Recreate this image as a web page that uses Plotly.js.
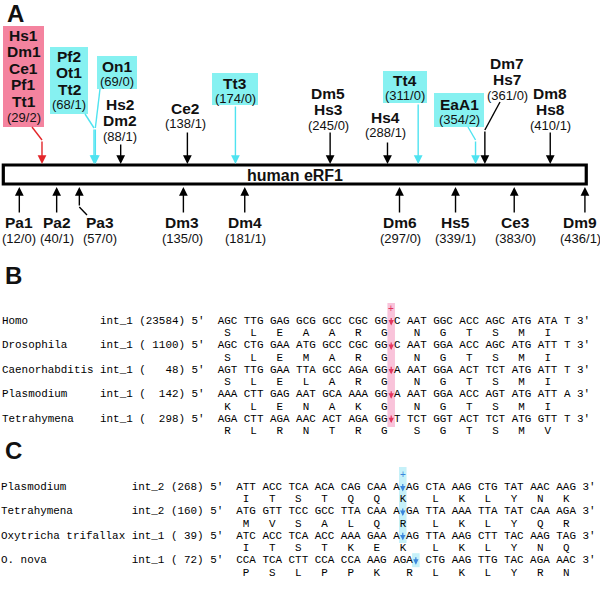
<!DOCTYPE html>
<html><head><meta charset="utf-8">
<script src="https://cdn.plot.ly/plotly-3.0.1.min.js"></script>
<style>html,body{margin:0;padding:0;background:#fff}#chart{width:600px;height:593px}</style>
</head><body><div id="chart"></div>
<script>
// ================= DATA =================
const proteinName = 'human eRF1';
const proteinLength = 437;

// intron sites above the bar
const topLabels = [['Hs1','Dm1','Ce1','Pf1','Tt1'],['Pf2','Ot1','Tt2'],['On1'],['Hs2','Dm2'],['Ce2'],['Tt3'],
                   ['Dm5','Hs3'],['Hs4'],['Tt4'],['EaA1'],['Dm7','Hs7'],['Dm8','Hs8']];
const topPositions = [29, 68, 69, 88, 138, 174, 245, 288, 311, 354, 361, 410];
const topPhases    = [2, 1, 0, 1, 1, 0, 0, 1, 0, 2, 0, 1];
const topClass     = ['shared','ciliate','ciliate','plain','plain','ciliate','plain','plain','ciliate','ciliate','plain','plain'];

// intron sites below the bar
const bottomLabels    = ['Pa1','Pa2','Pa3','Dm3','Dm4','Dm6','Hs5','Ce3','Dm9'];
const bottomPositions = [12, 40, 57, 135, 181, 297, 339, 383, 436];
const bottomPhases    = [0, 1, 0, 0, 1, 0, 1, 0, 1];

// panel B alignment
const bSpecies = ['Homo','Drosophila','Caenorhabditis','Plasmodium','Tetrahymena'];
const bIntron  = ['int_1','int_1','int_1','int_1','int_1'];
const bLength  = [23584, 1100, 48, 142, 298];
const bSeq = ['AGC TTG GAG GCG GCC CGC GG↓C AAT GGC ACC AGC ATG ATA T',
              'AGC CTG GAA ATG GCC CGC GG↓C AAT GGA ACC AGC ATG ATT T',
              'AGT TTG GAA TTA GCC AGA GG↓A AAT GGA ACT TCT ATG ATT T',
              'AAA CTT GAG AAT GCA AAA GG↓A AAT GGA ACC AGT ATG ATT A',
              'AGA CTT AGA AAC ACT AGA GG↓T TCT GGT ACT TCT ATG GTT T'];
const bAA = ['SLEAARGNGTSMI','SLEMARGNGTSMI','SLELARGNGTSMI','KLENAKGNGTSMI','RLRNTRGSGTSMV'];

// panel C alignment
const cSpecies = ['Plasmodium','Tetrahymena','Oxytricha trifallax','O. nova'];
const cIntron  = ['int_2','int_2','int_1','int_1'];
const cLength  = [268, 160, 39, 72];
const cSeq = ['ATT ACC TCA ACA CAG CAA A↓AG CTA AAG CTG TAT AAC AAG',
              'ATG GTT TCC GCC TTA CAA A↓GA TTA AAA TTA TAT CAA AGA',
              'ATC ACC TCA ACC AAA GAA A↓AG TTA AAG CTT TAC AAG TAG',
              'CCA TCA CTT CCA CCA AAG AGA↓ CTG AAG TTG TAC AGA AAC'];
const cAA = ['ITSTQQKLKLYNK','MVSALQRLKLYQR','ITSTKEKLKLYNQ','PSLPPKRLKLYRN'];

// ================= LAYOUT / STYLE =================
const W = 600, H = 593;
const K = 1.334, X0PX = 3.3;              // x axis scale: residues -> pixels
const toX = px => (px - X0PX) / K;
const SANS = 'Liberation Sans, Arial, Helvetica, sans-serif';
const MONO = 'Liberation Mono, Courier New, monospace';
const INK = '#111';
const COL = {
  shared: {box:'#f4839f', arrow:'#e3262a'},
  ciliate:{box:'#86f1f1', arrow:'#4fe3f0'},
  plain:  {box:null, arrow:'#000'}
};
const topLayout = [
  {cx:23.5, y0:35,  box:[3,44,26,127],  from:[32,127], bend:140},
  {cx:69,   y0:56,  box:[50,88,47,114], from:[85,114], bend:128},
  {cx:117,  y0:66,  box:[97,137,56,89], from:[100,89], bend:128},
  {cx:120,  y0:104, tail:143},
  {cx:185,  y0:108, tail:131},
  {cx:235,  y0:83,  box:[212,258,73,105], tail:105},
  {cx:328,  y0:93,  tail:131},
  {cx:385,  y0:117, tail:141},
  {cx:405,  y0:80,  box:[383,427,71,103], tail:103},
  {cx:459,  y0:104, box:[434,484,93,127], from:[468,127], bend:140},
  {cx:507,  y0:63,  from:[500,102], bend:130},
  {cx:550,  y0:93,  tail:131}
];
const bottomLayout = [
  {cx:19},{cx:57},{cx:100, from:[87,215], bend:207},{cx:182},{cx:245},{cx:400},{cx:455},{cx:515},{cx:580}
];
const LINE = 16.6, TOP_TIP = 164, BAR_Y0 = 165, BAR_Y1 = 184, BOT_TIP = 187, BOT_TAIL = 214;

const annotations = [], shapes = [];
function txt(px, py, t, size, extra) {
  annotations.push(Object.assign({xref:'paper', yref:'y', x:px/W, y:py, text:t, showarrow:false,
    xanchor:'center', yanchor:'middle', font:{family:SANS, size:size, color:INK}}, extra || {}));
}
function arrow(aa, tipY, tailY, color) {
  annotations.push({xref:'x', yref:'y', x:aa, y:tipY, axref:'x', ayref:'y', ax:aa, ay:tailY,
    text:'', showarrow:true, arrowhead:2, arrowsize:1.25, arrowwidth:1.4, arrowcolor:color});
}
function seg(x0px, y0, aa, y1, color) {
  shapes.push({type:'line', xref:'x', yref:'y', x0:toX(x0px), y0:y0, x1:aa, y1:y1, line:{color:color, width:1.4}});
}

// panel letters
const LET = {borderpad:0, borderwidth:0};
txt(15, 0, '<b>A</b>', 24, Object.assign({yanchor:'top'}, LET));
txt(13, 275, '<b>B</b>', 24, LET);
txt(13, 437.4, '<b>C</b>', 24, Object.assign({yanchor:'top'}, LET));

// protein bar
shapes.push({type:'rect', xref:'x', yref:'y', x0:0, x1:proteinLength, y0:BAR_Y0, y1:BAR_Y1,
  line:{color:'#000', width:3.2}, fillcolor:'#fff', layer:'below'});
txt(295, 175, '<b>' + proteinName + '</b>', 16);

// top sites
topPositions.forEach((aa, i) => {
  const L = topLayout[i], c = COL[topClass[i]];
  if (L.box) shapes.push({type:'rect', xref:'paper', yref:'y', x0:L.box[0]/W, x1:L.box[1]/W, y0:L.box[2], y1:L.box[3],
    line:{width:0}, fillcolor:c.box, layer:'below'});
  const lines = topLabels[i];
  lines.forEach((s, j) => txt(L.cx, L.y0 + j*LINE, '<b>' + s + '</b>', 15.5));
  txt(L.cx, L.y0 + lines.length*LINE - 1, '(' + aa + '/' + topPhases[i] + ')', 13);
  if (L.from) { seg(L.from[0], L.from[1], aa, L.bend, c.arrow); arrow(aa, TOP_TIP, L.bend, c.arrow); }
  else arrow(aa, TOP_TIP, L.tail, c.arrow);
});

// bottom sites
bottomPositions.forEach((aa, i) => {
  const L = bottomLayout[i];
  txt(L.cx, 222, '<b>' + bottomLabels[i] + '</b>', 15.5);
  txt(L.cx, 238, '(' + aa + '/' + bottomPhases[i] + ')', 13);
  if (L.from) { seg(L.from[0], L.from[1], aa, L.bend, '#000'); arrow(aa, BOT_TIP, L.bend, '#000'); }
  else arrow(aa, BOT_TIP, BOT_TAIL, '#000');
});

// sequence alignments
const MS = 10.9, CW = MS * 1229 / 2048;   // monospace advance
const nb = s => s.replace(/ /g, '\u00a0');
function seqBlock(species, intron, lens, seqs, aas, o) {
  species.forEach((sp, i) => {
    const prefix = sp.padEnd(o.padName) + intron[i] + ' (' + String(lens[i]).padStart(o.padLen) + ") 5'  ";
    const line = prefix + seqs[i] + " 3'";
    const ai = line.indexOf('↓');
    const aaArr = new Array(line.length).fill(' ');
    let pos = prefix.length, k = 0;
    seqs[i].split(' ').forEach(tok => {
      if (tok.replace('↓','').length === 3) {
        aaArr[pos + 1 + (tok.endsWith('↓') ? 1 : 0)] = aas[i][k++];
      }
      pos += tok.length + 1;
    });
    const y = o.y0 + i * o.dy;
    const x0 = o.x + 2;                    // left edge of the first character
    const mono = {family:MONO, size:MS, color:'#000'};
    const base = {xref:'paper', yref:'y', xanchor:'left', yanchor:'middle', showarrow:false, font:mono, borderpad:0, borderwidth:0};
    const left = line.slice(0, ai).replace(/\s+$/, '');
    const right = line.slice(ai + 1);
    annotations.push(Object.assign({}, base, {x:x0/W, y:y, text:nb(left)}));
    annotations.push(Object.assign({}, base, {x:(x0 + (ai + 1) * CW)/W, y:y, text:nb(right)}));
    annotations.push(Object.assign({}, base, {x:x0/W, y:y + 12.4, text:nb(aaArr.join('').replace(/\s+$/,''))}));
    const bx = x0 + ai * CW;              // left edge of the intron column
    annotations.push({xref:'paper', yref:'y', x:(bx + CW/2)/W, y:y + 4.5, ax:0, ay:-9, text:'', showarrow:true,
      arrowhead:2, arrowsize:0.9, arrowwidth:1.2, arrowcolor:o.arrowColor});
    if (i < o.bandRows) {
      if (i === 0) {
        shapes.push({type:'rect', xref:'paper', yref:'y', x0:(bx - 0.5)/W, x1:(bx + CW + 0.5)/W, y0:o.band[0], y1:o.band[1],
          line:{width:0}, fillcolor:o.bandColor, layer:'below'});
        txt(bx + CW/2, o.plusY, '+', 10, {font:{family:SANS, size:10, color:o.arrowColor}, borderpad:0, borderwidth:0});
      }
    } else {
      shapes.push({type:'rect', xref:'paper', yref:'y', x0:(bx - 0.5)/W, x1:(bx + CW + 0.5)/W, y0:y - 7, y1:y + 7,
        line:{width:0}, fillcolor:o.bandColor, layer:'below'});
    }
  });
}
seqBlock(bSpecies, bIntron, bLength, bSeq, bAA,
  {padName:15, padLen:5, x:0, y0:321, dy:24.4, arrowColor:'#e2355f', bandColor:'#f9c3da', band:[303,427], plusY:308, bandRows:5});
seqBlock(cSpecies, cIntron, cLength, cSeq, cAA,
  {padName:20, padLen:3, x:-1.5, y0:487, dy:24.4, arrowColor:'#3a86dc', bandColor:'#c6f1f9', band:[467,543], plusY:474, bandRows:3});

// invisible anchor trace carrying the site positions on the residue axis
const data = [{type:'scatter', mode:'markers', x:topPositions.concat(bottomPositions),
  y:topPositions.map(() => TOP_TIP).concat(bottomPositions.map(() => BOT_TIP)),
  marker:{opacity:0}, hoverinfo:'skip', showlegend:false}];

const layout = {
  width:W, height:H, margin:{l:0, r:0, t:0, b:0}, paper_bgcolor:'#fff', plot_bgcolor:'#fff',
  xaxis:{range:[toX(0), toX(W)], visible:false, fixedrange:true},
  yaxis:{range:[H, 0], visible:false, fixedrange:true},
  showlegend:false, shapes:shapes, annotations:annotations
};
Plotly.newPlot('chart', data, layout, {displayModeBar:false, staticPlot:true});
</script></body></html>
